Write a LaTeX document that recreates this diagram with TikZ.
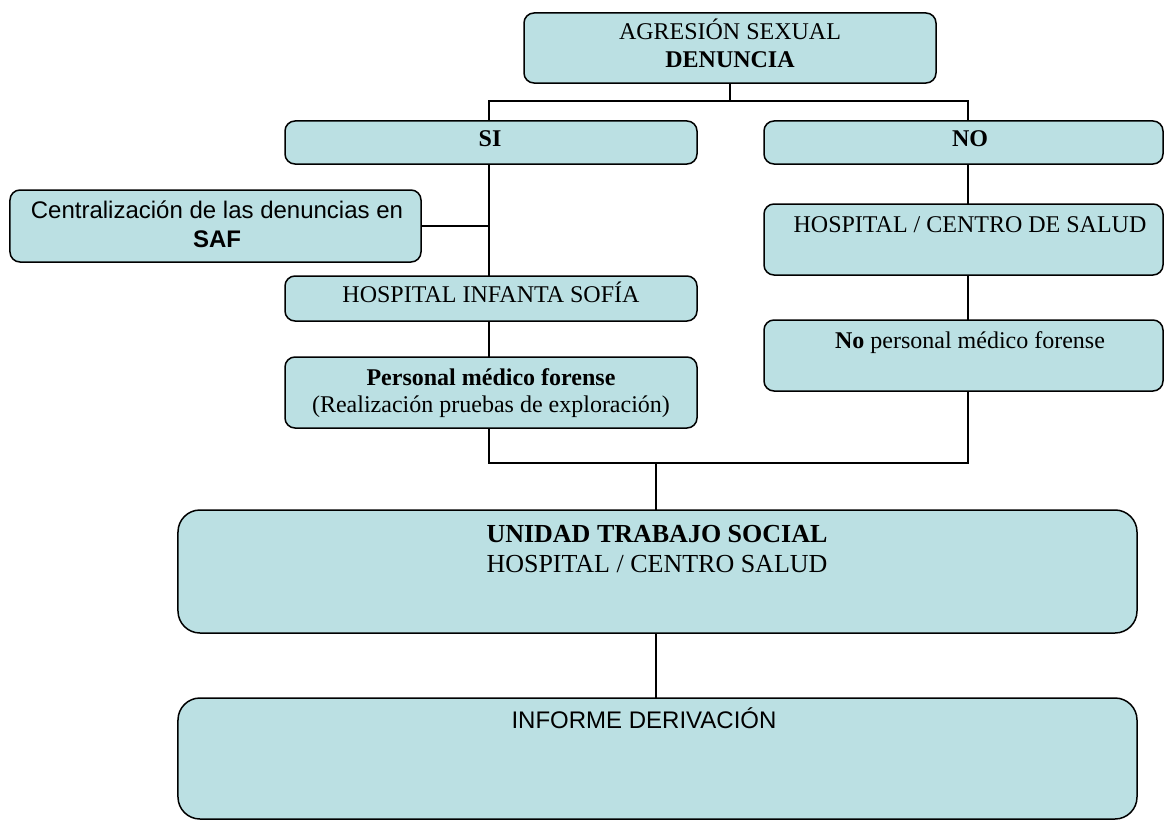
\documentclass[tikz,border=0pt]{standalone}
\usepackage{fontspec}
\setmainfont{Liberation Serif}
\newfontfamily\arialfont{Liberation Sans}
\definecolor{boxfill}{RGB}{187,224,227}
\tikzset{
  box/.style={draw=black, line width=1.5bp, fill=boxfill, rounded corners=10bp, inner sep=0pt, outer sep=0pt},
  bigbox/.style={draw=black, line width=1.5bp, fill=boxfill, rounded corners=22bp, inner sep=0pt, outer sep=0pt},
  conn/.style={draw=black, line width=1.5bp},
  txt/.style={anchor=base, inner sep=0pt, font=\fontsize{24bp}{27.6bp}\selectfont},
  stxt/.style={anchor=base, inner sep=0pt, font=\arialfont\fontsize{24bp}{27.6bp}\selectfont},
  btxt/.style={anchor=base, inner sep=0pt, font=\fontsize{26bp}{30bp}\selectfont},
  itxt/.style={anchor=base, inner sep=0pt, font=\arialfont\fontsize{24bp}{28bp}\selectfont},
}
\begin{document}
\begin{tikzpicture}[x=1bp,y=-1bp]
\useasboundingbox (0,0) rectangle (1167,821);
% boxes
\node[box, minimum width=412bp, minimum height=70bp] (top) at (730,48) {};
\node[box, minimum width=412bp, minimum height=43bp] (si) at (491,142.5) {};
\node[box, minimum width=399bp, minimum height=43bp] (no) at (963.5,142.5) {};
\node[box, minimum width=411bp, minimum height=72bp] (saf) at (215.5,226) {};
\node[box, minimum width=412bp, minimum height=45bp] (his) at (491,298.5) {};
\node[box, minimum width=412bp, minimum height=71bp] (pmf) at (491,392.5) {};
\node[box, minimum width=399bp, minimum height=71bp] (hcs) at (963.5,239.5) {};
\node[box, minimum width=399bp, minimum height=71bp] (npmf) at (963.5,355.5) {};
\node[bigbox, minimum width=959bp, minimum height=123bp] (uts) at (657.5,571.5) {};
\node[bigbox, minimum width=959bp, minimum height=121bp] (inf) at (657.5,758.5) {};
% column coordinates
\coordinate (cL) at (489,0);
\coordinate (cR) at (968,0);
\coordinate (cM) at (656,0);
\coordinate (j1) at (730,101);
\coordinate (j2) at (656,463);
% connectors
\draw[conn] (top.south) -- (j1);
\draw[conn] (si.north -| cL) -- (cL |- j1) -- (cR |- j1) -- (no.north -| cR);
\draw[conn] (si.south -| cL) -- (his.north -| cL);
\draw[conn] (saf.east) -- (saf.east -| cL);
\draw[conn] (his.south -| cL) -- (pmf.north -| cL);
\draw[conn] (pmf.south -| cL) -- (cL |- j2) -- (cR |- j2) -- (npmf.south -| cR);
\draw[conn] (no.south -| cR) -- (hcs.north -| cR);
\draw[conn] (hcs.south -| cR) -- (npmf.north -| cR);
\draw[conn] (j2) -- (uts.north -| cM);
\draw[conn] (uts.south -| cM) -- (inf.north -| cM);
% texts
\node[txt] (t1a) at (730,40) {AGRESIÓN SEXUAL};
\node[txt] (t1b) at (730,68) {\textbf{DENUNCIA}};
\node[txt] (tsi) at (490,146) {\textbf{SI}};
\node[txt] (tno) at (970,146) {\textbf{NO}};
\node[stxt] (tsafa) at (217,218) {Centralización de las denuncias en};
\node[stxt] (tsafb) at (217,247) {\textbf{SAF}};
\node[txt] (this) at (491,302) {HOSPITAL INFANTA SOFÍA};
\node[txt] (tpmfa) at (491,385) {\textbf{Personal médico forense}};
\node[txt] (tpmfb) at (491,412) {(Realización pruebas de exploración)};
\node[txt] (thcs) at (970,232) {HOSPITAL / CENTRO DE SALUD};
\node[txt] (tnpmf) at (970,348) {\textbf{No} personal médico forense};
\node[btxt] (tutsa) at (657,542) {\textbf{UNIDAD TRABAJO SOCIAL}};
\node[btxt] (tutsb) at (657,572) {HOSPITAL / CENTRO SALUD};
\node[itxt] (tinf) at (644,728) {INFORME DERIVACIÓN};
\end{tikzpicture}
\end{document}
